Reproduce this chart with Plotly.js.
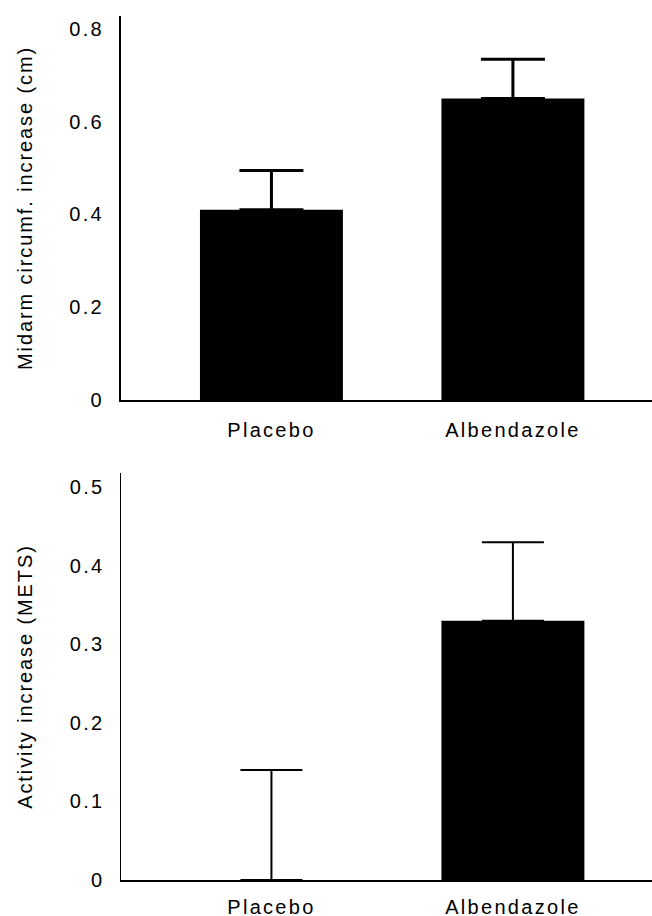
<!DOCTYPE html>
<html>
<head>
<meta charset="utf-8">
<script src="https://cdn.plot.ly/plotly-3.0.1.min.js"></script>
<style>
  html, body { margin: 0; padding: 0; background: #fff; }
  #chart { width: 652px; height: 916px; }
  #chart .xtick text, #chart .ytick text, #chart .x2tick text, #chart .y2tick text { letter-spacing: 2.3px; }
  #chart .ytitle, #chart .y2title { letter-spacing: 1.9px; }
</style>
</head>
<body>
<div id="chart"></div>
<script>
// Data
const categories = ["Placebo", "Albendazole"];
const midarmValues = [0.41, 0.65];
const midarmErrors = [0.085, 0.085];
const activityValues = [0, 0.33];
const activityErrors = [0.14, 0.10];
const midarmTicks = [0, 0.2, 0.4, 0.6, 0.8];
const midarmTickLabels = ["0", "0.2", "0.4", "0.6", "0.8"];
const activityTicks = [0, 0.1, 0.2, 0.3, 0.4, 0.5];
const activityTickLabels = ["0", "0.1", "0.2", "0.3", "0.4", "0.5"];

const font = {family: "Liberation Sans, Arial, Helvetica, sans-serif", size: 20, color: "#000"};

const traces = [
  {
    type: "bar", x: categories, y: midarmValues, xaxis: "x", yaxis: "y",
    width: 0.592, marker: {color: "#000", line: {width: 0}},
    error_y: {type: "data", array: midarmErrors, symmetric: false, arrayminus: [0, 0],
              visible: true, color: "#000", thickness: 3, width: 32},
    showlegend: false, hoverinfo: "x+y"
  },
  {
    type: "bar", x: categories, y: activityValues, xaxis: "x2", yaxis: "y2",
    width: 0.592, marker: {color: "#000", line: {width: 0}},
    error_y: {type: "data", array: activityErrors, symmetric: false, arrayminus: [0, 0],
              visible: true, color: "#000", thickness: 2, width: 31},
    showlegend: false, hoverinfo: "x+y"
  }
];

const xDomain = [121 / 652, 1];
const layout = {
  width: 652, height: 916,
  margin: {l: 0, r: 0, t: 0, b: 0, pad: 0},
  paper_bgcolor: "#fff", plot_bgcolor: "#fff",
  font: font,
  showlegend: false,
  xaxis: {
    domain: xDomain, anchor: "y", type: "category",
    range: [-0.623, 1.576], showgrid: false, zeroline: false,
    showline: true, linecolor: "#000", linewidth: 2,
    ticks: "", ticklabelstandoff: 11, tickfont: font, automargin: false, fixedrange: true
  },
  yaxis: {
    domain: [1 - 400 / 916, 1 - 16 / 916], anchor: "x",
    range: [0, 0.828], tickvals: midarmTicks, ticktext: midarmTickLabels,
    showgrid: false, zeroline: false, showline: true, linecolor: "#000", linewidth: 2,
    ticks: "", ticklabelstandoff: 11, tickfont: font, automargin: false, fixedrange: true,
    title: {text: "Midarm circumf. increase (cm)", font: font, standoff: 38}
  },
  xaxis2: {
    domain: xDomain, anchor: "y2", type: "category",
    range: [-0.623, 1.576], showgrid: false, zeroline: false,
    showline: true, linecolor: "#000", linewidth: 1.5,
    ticks: "", ticklabelstandoff: 8, tickfont: font, automargin: false, fixedrange: true
  },
  yaxis2: {
    domain: [1 - 880 / 916, 1 - 473 / 916], anchor: "x2",
    range: [0, 0.518], tickvals: activityTicks, ticktext: activityTickLabels,
    showgrid: false, zeroline: false, showline: true, linecolor: "#000", linewidth: 1.5,
    ticks: "", ticklabelstandoff: 11, tickfont: font, automargin: false, fixedrange: true,
    title: {text: "Activity increase (METS)", font: font, standoff: 38}
  }
};

Plotly.newPlot("chart", traces, layout, {displayModeBar: false, staticPlot: true});
</script>
</body>
</html>
